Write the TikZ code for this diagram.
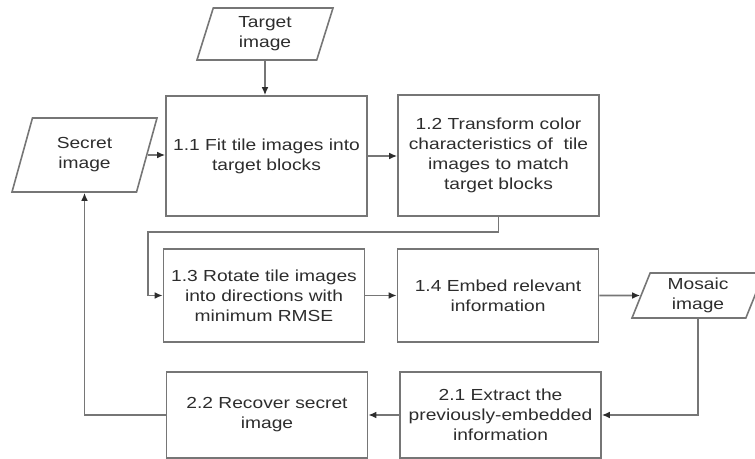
\documentclass[tikz,border=0pt]{standalone}
\usepackage{fontspec}
\setmainfont[FakeStretch=1.2]{Liberation Sans}
\usetikzlibrary{shapes,arrows,arrows.meta}
\definecolor{boxline}{RGB}{118,118,118}
\definecolor{boxtext}{RGB}{45,45,45}

\begin{document}
\begin{tikzpicture}[x=.5pt,y=-.5pt,line width=.8pt,
	proc/.style={draw=boxline,text=boxtext,align=center,minimum width=100.5pt,inner sep=2pt},
	io/.style={trapezium,draw=boxline,text=boxtext,align=center,trapezium stretches body,inner sep=1pt},
	flow/.style={draw=boxline,-{Latex[length=4pt,width=3.4pt,color=boxtext]}}]
	\fontsize{8}{10}\selectfont
				\clip (0,0) rectangle (755,459);
				% data in and out
				\node[io,trapezium left angle=67,trapezium right angle=113,minimum width=68pt,minimum height=26pt] (target) at (265,34) {Target\\image};
				\node[io,trapezium left angle=62,trapezium right angle=118,minimum width=72.5pt,minimum height=37pt] (secret) at (84.5,155) {Secret\\image};
				\node[io,trapezium left angle=65,trapezium right angle=115,minimum width=66pt,minimum height=22.5pt] (mosaic) at (698,295.5) {Mosaic\\image};
				% embedding steps
				\node[proc,minimum height=60pt] (fit) at (266.5,156) {1.1 Fit tile images into\\target blocks};
				\node[proc,minimum height=60.5pt] (transform) at (498.5,155.5) {1.2 Transform color\\characteristics of\ \ tile\\images to match\\target blocks};
				\node[proc,minimum height=46.5pt] (rotate) at (264,295.5) {1.3 Rotate tile images\\into directions with\\minimum RMSE};
				\node[proc,minimum height=46.5pt] (embed) at (498,295.5) {1.4 Embed relevant\\information};
				% extraction steps
				\node[proc,minimum height=43pt] (extract) at (500.5,415) {2.1 Extract the\\previously-embedded\\information};
				\node[proc,minimum height=43pt] (recover) at (267,415) {2.2 Recover secret\\image};
				\coordinate (turn) at (148,232);
				\draw[flow] (target.south) -- (target.south |- fit.north);
				\draw[flow] (secret.east) -- (secret.east -| fit.west);
				\draw[flow] (fit.east) -- (fit.east -| transform.west);
				\draw[flow] (transform.south) |- (turn) |- (rotate.west);
				\draw[flow] (rotate.east) -- (embed.west);
				\draw[flow] (embed.east) -- (mosaic.west);
				\draw[flow] (mosaic.south) |- (extract.east);
				\draw[flow] (extract.west) -- (recover.east);
				\draw[flow] (recover.west) -| (secret.south);
			\end{tikzpicture}
\end{document}
